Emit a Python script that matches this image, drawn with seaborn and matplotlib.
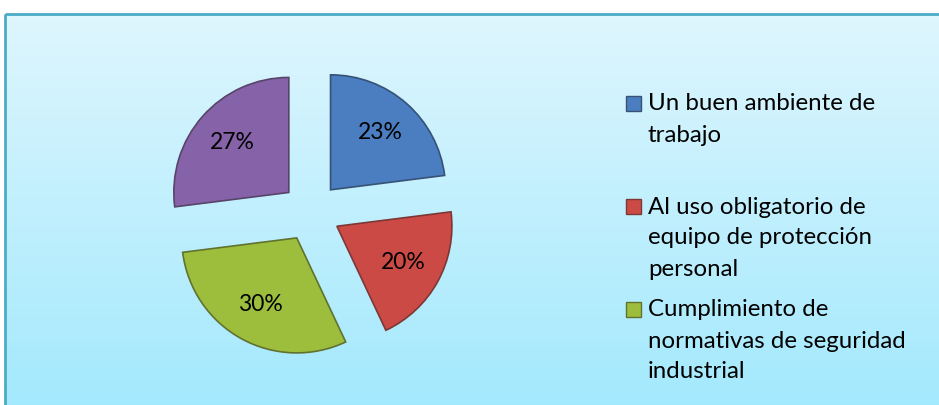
import numpy as np
import matplotlib
matplotlib.use("Agg")
import matplotlib.pyplot as plt
import matplotlib.colors as mcolors
from matplotlib.patches import Rectangle
import seaborn as sns

# Chart data
categories = [
    "Un buen ambiente de\ntrabajo",
    "Al uso obligatorio de\nequipo de protección\npersonal",
    "Cumplimiento de\nnormativas de seguridad\nindustrial",
    "Otros",
]
shares = [23, 20, 30, 27]
slice_colors = ["#4A7EC0", "#CC4A45", "#9CBE3C", "#8662A8"]

sns.set_style("white")
plt.rcParams["font.family"] = ["Lato", "DejaVu Sans"]

W, H = 939, 405
fig = plt.figure(figsize=(W / 100, H / 100), dpi=100)
fig.patch.set_facecolor("white")

# Background panel with vertical gradient
bg = fig.add_axes([0, 0, 1, 1])
bg.axis("off")
grad = np.linspace(0, 1, 256).reshape(-1, 1)
cmap = mcolors.LinearSegmentedColormap.from_list("bg", ["#DEF6FE", "#A3E9FD"])
bg.imshow(grad, cmap=cmap, aspect="auto", extent=[5, W + 5, H + 5, 14], zorder=0)
bg.add_patch(Rectangle((5, 14), W + 10, H, fill=False, edgecolor="#4BACC6",
                       linewidth=2, zorder=2))
bg.set_xlim(0, W)
bg.set_ylim(H, 0)

# Exploded pie, starting at 12 o'clock and going clockwise
r_px = 115
cx, cy = 311, H - 212
half = 1.5 * r_px
ax = fig.add_axes([(cx - half) / W, (cy - half) / H, 2 * half / W, 2 * half / H])
ax.set_facecolor("none")
edge_cols = [sns.dark_palette(c, n_colors=3)[1] for c in slice_colors]
wedges, texts, autotexts = ax.pie(
    shares,
    colors=sns.color_palette(slice_colors),
    startangle=90,
    counterclock=False,
    explode=[0.257] * len(shares),
    autopct="%1.0f%%",
    pctdistance=0.66,
    wedgeprops=dict(linewidth=1.2),
    textprops=dict(fontsize=16.5, color="black"),
)
for w, ec in zip(wedges, edge_cols):
    w.set_edgecolor(ec)
ax.set_xlim(-1.5, 1.5)
ax.set_ylim(-1.5, 1.5)
ax.set_aspect("equal")
ax.axis("off")

# Legend drawn entry by entry so the marker sits on the first line;
# entries that fall below the panel are not drawn (as in the original)
line_h = 31
y = 104
for label, col in zip(categories, slice_colors):
    if y > H - 10:
        break
    bg.add_patch(Rectangle((626, y - 8), 15, 15, facecolor=col,
                           edgecolor=sns.dark_palette(col, n_colors=3)[1],
                           linewidth=1, zorder=3))
    for k, part in enumerate(label.split("\n")):
        bg.text(648, y + k * line_h, part, fontsize=17.3, va="center", ha="left",
                color="black", zorder=3)
    y += 3 * line_h + 10

fig.savefig("out.png", dpi=100)
